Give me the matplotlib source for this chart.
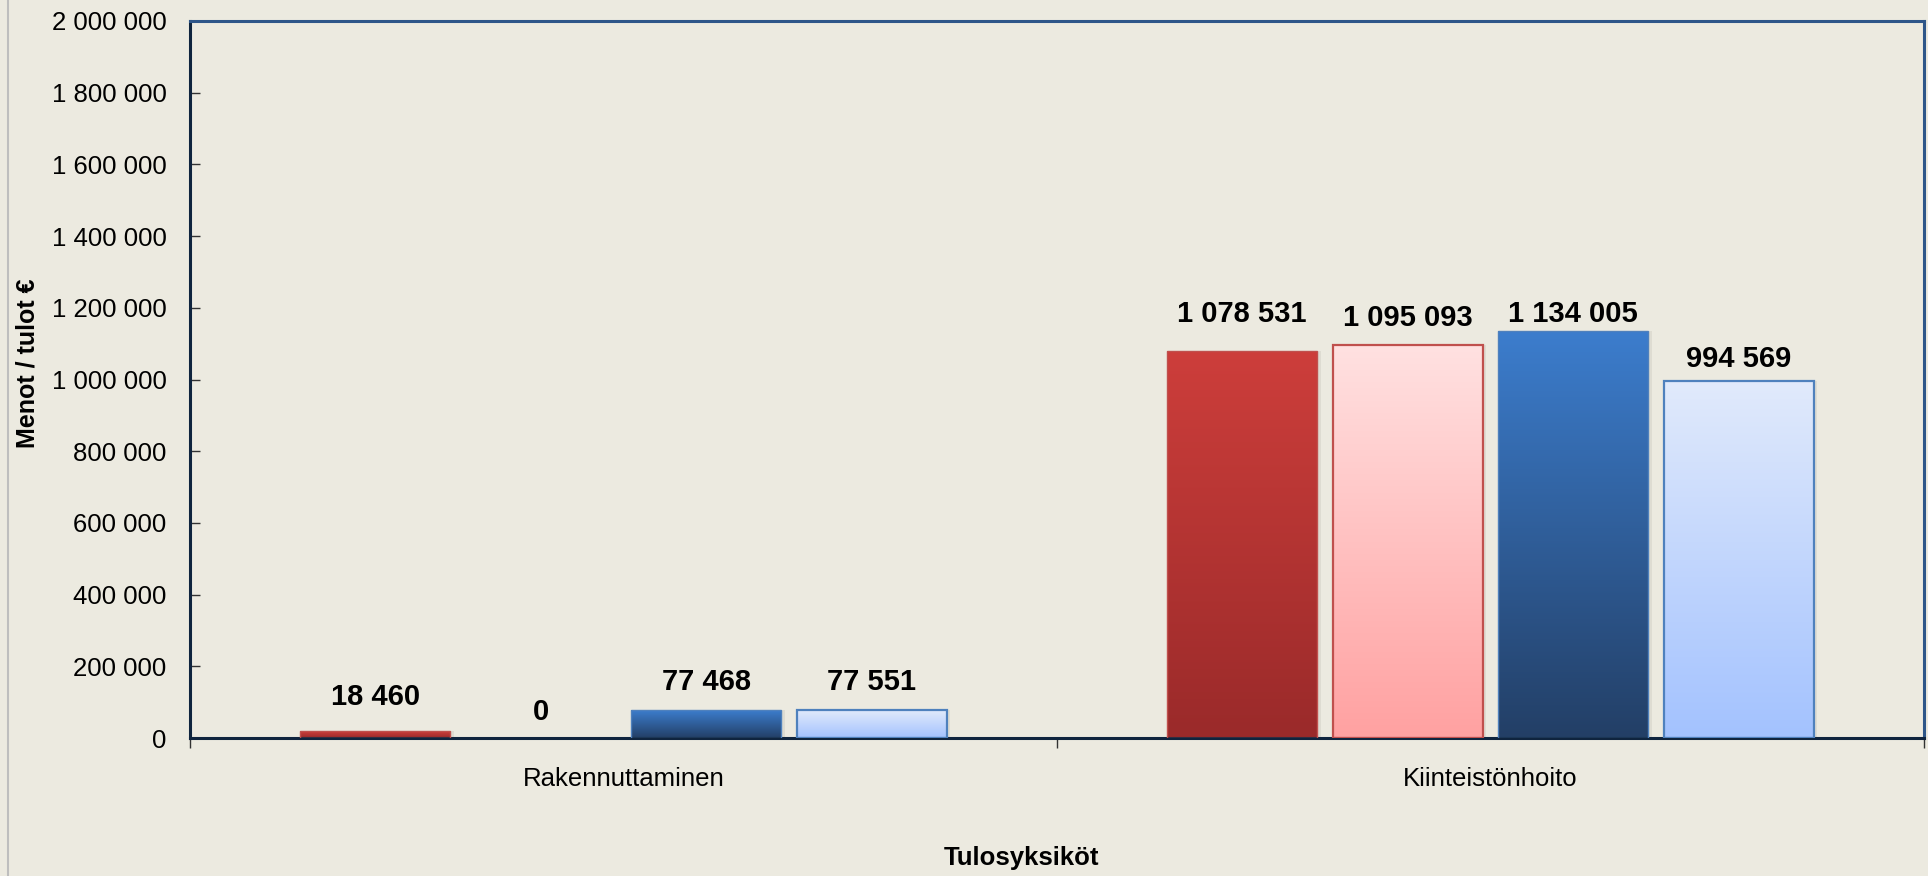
import numpy as np
import matplotlib
matplotlib.use("Agg")
import matplotlib.pyplot as plt
from matplotlib.colors import LinearSegmentedColormap
from matplotlib.lines import Line2D

categories = ["Rakennuttaminen", "Kiinteistönhoito"]
series1 = [18460, 1078531]
series2 = [0, 1095093]
series3 = [77468, 1134005]
series4 = [77551, 994569]
yticks = [0, 200000, 400000, 600000, 800000, 1000000, 1200000, 1400000, 1600000, 1800000, 2000000]

def fmt(v):
    return f"{v:,.0f}".replace(",", " ")

# style
BG = "#ECEAE0"
series = [series1, series2, series3, series4]
grad = [("#CD3E3B", "#9A2A2A"), ("#FFE1E1", "#FFA1A1"),
        ("#3C7DCD", "#233F66"), ("#E1EAFB", "#A3C2FF")]
edges = ["#C0504D", "#C0504D", "#4F81BD", "#4F81BD"]
elw = [1.0, 1.6, 1.0, 1.6]
# label offsets (points) above bar tops, per series per category
loff = [[25, 27], [18.5, 19.5], [20, 12.5], [20, 16]]

plt.rcParams['font.family'] = ['Liberation Sans', 'DejaVu Sans']

fig = plt.figure(figsize=(19.28, 8.76), dpi=100, facecolor=BG)
ax = fig.add_axes([190/1928, 1-738/876, (1924-190)/1928, (738-21)/876])
ax.set_facecolor(BG)

x = np.arange(len(categories))
w = 0.173
step = 0.191
offsets = [-1.5*step, -0.5*step, 0.5*step, 1.5*step]

ax.set_xlim(-0.5, 1.5)
ax.set_ylim(0, 2000000)

for i, vals in enumerate(series):
    bars = ax.bar(x + offsets[i], vals, w, color="none", edgecolor=edges[i],
                  linewidth=elw[i], zorder=3)
    cmap = LinearSegmentedColormap.from_list(f"g{i}", [grad[i][1], grad[i][0]])
    for b, v, off in zip(bars, vals, loff[i]):
        x0, h, bw = b.get_x(), b.get_height(), b.get_width()
        if h > 0:
            ax.bar(x0 + bw/2 + 0.004, h, bw, bottom=0, color="#000000", alpha=0.06,
                   zorder=2, linewidth=0)
            img = ax.imshow(np.linspace(0, 1, 256).reshape(-1, 1), cmap=cmap,
                            extent=[x0, x0 + bw, 0, h], origin="lower",
                            aspect="auto", zorder=2.5)
            img.set_clip_path(b)
        else:
            b.set_linewidth(0)
        ax.annotate(fmt(v), (x0 + bw/2, h), xytext=(0, off), textcoords="offset points",
                    ha="center", va="center", fontsize=21, fontweight="bold",
                    color="black", zorder=5)

ax.set_xlim(-0.5, 1.5)
ax.set_ylim(0, 2000000)

ax.set_yticks(yticks)
ax.set_yticklabels([fmt(t) for t in yticks])
ax.tick_params(axis="y", direction="in", length=7, width=1, color="#333333",
               labelsize=18.5, pad=17)
ax.set_xticks(x)
ax.set_xticklabels(categories)
ax.set_xticks([-0.5, 0.5, 1.5], minor=True)
ax.tick_params(axis="x", which="major", length=0, labelsize=18.5, pad=21)
ax.tick_params(axis="x", which="minor", direction="out", length=7, width=1, color="#333333")

for s in ["top", "right"]:
    ax.spines[s].set_color("#2E5689")
    ax.spines[s].set_linewidth(2.2)
for s in ["left", "bottom"]:
    ax.spines[s].set_color("#0F243E")
    ax.spines[s].set_linewidth(2.2)

fig.text(28 / 1928, 1 - 363 / 876, "Menot / tulot €", rotation=90, ha="center",
         va="center", fontsize=18, fontweight="bold")
fig.text(1021 / 1928, 1 - 858 / 876, "Tulosyksiköt", ha="center",
         va="center", fontsize=18.5, fontweight="bold")

fig.add_artist(Line2D([8/1928, 8/1928], [0, 1], transform=fig.transFigure,
                      color="#BEBEBE", linewidth=1.5))

fig.savefig("out.png", dpi=100, facecolor=BG)
